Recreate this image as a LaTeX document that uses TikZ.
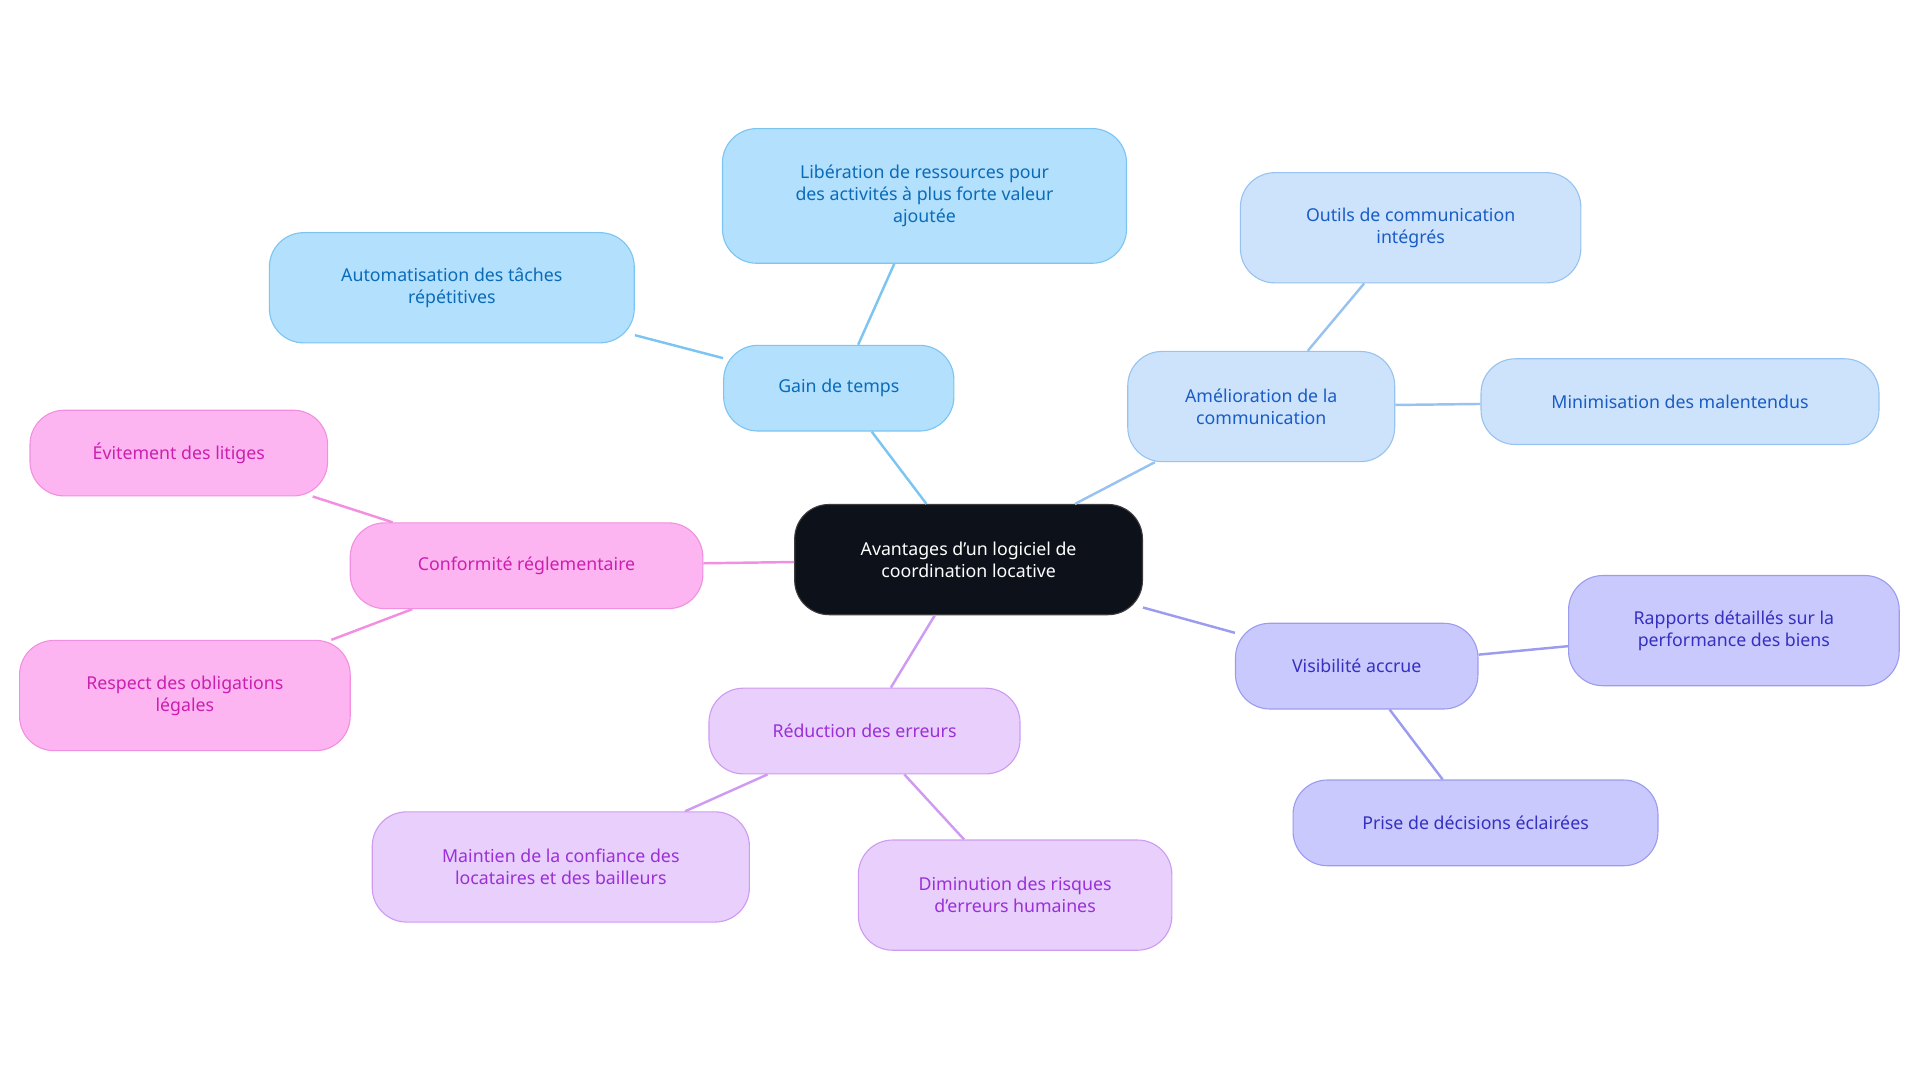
\documentclass[tikz,border=0pt]{standalone}
\usepackage{fontspec}
\setmainfont{Noto Sans}
\begin{document}
\begin{tikzpicture}[x=1pt,y=-1pt,
 b/.style={rounded corners=28pt,draw,line width=0.9pt,align=center,inner sep=0pt,font=\fontsize{14.5}{18}\selectfont},
 ln/.style={line width=2pt}]
\definecolor{bF}{HTML}{B3E0FD}\definecolor{bD}{HTML}{7CC4F2}\definecolor{bT}{HTML}{0B6BB8}
\definecolor{lF}{HTML}{CDE3FB}\definecolor{lD}{HTML}{98C3F0}\definecolor{lT}{HTML}{1A5CC5}
\definecolor{vF}{HTML}{C9C9FD}\definecolor{vD}{HTML}{9B9BEF}\definecolor{vT}{HTML}{3530C0}
\definecolor{rF}{HTML}{E8CFFC}\definecolor{rD}{HTML}{CF9BF2}\definecolor{rT}{HTML}{9A30D6}
\definecolor{cF}{HTML}{FDB5F2}\definecolor{cD}{HTML}{F28FE0}\definecolor{cT}{HTML}{CC1FAE}
\tikzset{
 gb/.style={b,fill=bF,draw=bD,text=bT},
 gl/.style={b,fill=lF,draw=lD,text=lT},
 gv/.style={b,fill=vF,draw=vD,text=vT},
 gr/.style={b,fill=rF,draw=rD,text=rT},
 gc/.style={b,fill=cF,draw=cD,text=cT}}
\useasboundingbox (0,0) rectangle (1568,884);
\node[b,fill=black!90!blue!60!black,fill={rgb,255:red,13;green,18;blue,26},draw={rgb,255:red,60;green,60;blue,60},text=white,minimum width=284pt,minimum height=90pt] (c) at (791,457) {Avantages d'un logiciel de\\coordination locative};
\node[gb,minimum width=188pt,minimum height=70pt] (g) at (685,317) {Gain de temps};
\node[gb,minimum width=330pt,minimum height=110pt] (g1) at (755,160) {Libération de ressources pour\\des activités à plus forte valeur\\ajoutée};
\node[gb,minimum width=298pt,minimum height=90pt] (g2) at (369,235) {Automatisation des tâches\\répétitives};
\node[gl,minimum width=218pt,minimum height=90pt] (a) at (1030,332) {Amélioration de la\\communication};
\node[gl,minimum width=278pt,minimum height=90pt] (a1) at (1152,186) {Outils de communication\\intégrés};
\node[gl,minimum width=325pt,minimum height=70pt] (a2) at (1372,328) {Minimisation des malentendus};
\node[gv,minimum width=198pt,minimum height=70pt] (v) at (1108,544) {Visibilité accrue};
\node[gv,minimum width=270pt,minimum height=90pt] (v1) at (1416,515) {Rapports détaillés sur la\\performance des biens};
\node[gv,minimum width=298pt,minimum height=70pt] (v2) at (1205,672) {Prise de décisions éclairées};
\node[gr,minimum width=254pt,minimum height=70pt] (r) at (706,597) {Réduction des erreurs};
\node[gr,minimum width=308pt,minimum height=90pt] (r1) at (458,708) {Maintien de la confiance des\\locataires et des bailleurs};
\node[gr,minimum width=256pt,minimum height=90pt] (r2) at (829,731) {Diminution des risques\\d'erreurs humaines};
\node[gc,minimum width=288pt,minimum height=70pt] (k) at (430,462) {Conformité réglementaire};
\node[gc,minimum width=243pt,minimum height=70pt] (k1) at (146,370) {Évitement des litiges};
\node[gc,minimum width=270pt,minimum height=90pt] (k2) at (151,568) {Respect des obligations\\légales};
\begin{scope}[on background layer/.try]
\end{scope}
\draw[ln,draw=bD] (c) -- (g); \draw[ln,draw=bD] (g) -- (g1); \draw[ln,draw=bD] (g) -- (g2);
\draw[ln,draw=lD] (c) -- (a); \draw[ln,draw=lD] (a) -- (a1); \draw[ln,draw=lD] (a) -- (a2);
\draw[ln,draw=vD] (c) -- (v); \draw[ln,draw=vD] (v) -- (v1); \draw[ln,draw=vD] (v) -- (v2);
\draw[ln,draw=rD] (c) -- (r); \draw[ln,draw=rD] (r) -- (r1); \draw[ln,draw=rD] (r) -- (r2);
\draw[ln,draw=cD] (c) -- (k); \draw[ln,draw=cD] (k) -- (k1); \draw[ln,draw=cD] (k) -- (k2);
\end{tikzpicture}
\end{document}
